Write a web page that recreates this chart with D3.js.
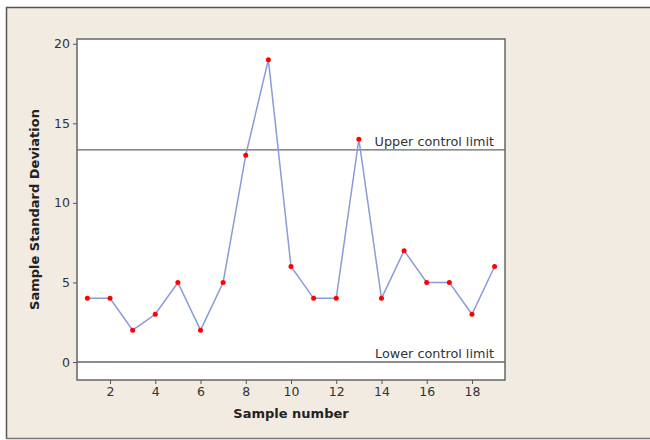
<!DOCTYPE html>
<html><head><meta charset="utf-8">
<script src="https://cdn.jsdelivr.net/npm/d3@7"></script>
<style>
html,body{margin:0;padding:0;background:#fff;}
svg{display:block;}
text{font-family:"DejaVu Sans",Verdana,sans-serif;}
</style></head>
<body>
<svg id="c" width="650" height="440"></svg>
<script>
const samples = [1,2,3,4,5,6,7,8,9,10,11,12,13,14,15,16,17,18,19];
const stdDev = [4,4,2,3,5,2,5,13,19,6,4,4,14,4,7,5,5,3,6];
const xTicks = [2,4,6,8,10,12,14,16,18];
const yTicks = [0,5,10,15,20];
const upperLimit = 13.33;
const lowerLimit = 0;
const limitLabels = ["Upper control limit","Lower control limit"];

const svg = d3.select("#c");
svg.append("rect").attr("x",0).attr("y",0).attr("width",650).attr("height",440).attr("fill","#fff");
svg.append("rect").attr("x",6).attr("y",7).attr("width",650).attr("height",432).attr("fill","#f2ebe1");
svg.append("line").attr("x1",6).attr("x2",650).attr("y1",7.5).attr("y2",7.5).attr("stroke","#555").attr("stroke-width",1.5);
svg.append("line").attr("x1",6.5).attr("x2",6.5).attr("y1",7).attr("y2",439).attr("stroke","#555").attr("stroke-width",1.5);
svg.append("line").attr("x1",6).attr("x2",650).attr("y1",438.5).attr("y2",438.5).attr("stroke","#777").attr("stroke-width",1.5);

const L=77, R=505, T=39, B=380;
const x = d3.scaleLinear().domain([0.54,19.46]).range([L,R]);
const y = d3.scaleLinear().domain([-1.13,20.3]).range([B,T]);

svg.append("rect").attr("x",L).attr("y",T).attr("width",R-L).attr("height",B-T)
  .attr("fill","#fff").attr("stroke","#666").attr("stroke-width",1.5);

const xAxis = svg.append("g").attr("transform",`translate(0,${B})`)
  .call(d3.axisBottom(x).tickValues(xTicks).tickSize(4).tickPadding(3).tickSizeOuter(0));
const yAxis = svg.append("g").attr("transform",`translate(${L},0)`)
  .call(d3.axisLeft(y).tickValues(yTicks).tickSize(4).tickPadding(3).tickSizeOuter(0));
[xAxis,yAxis].forEach(g=>{
  g.select(".domain").remove();
  g.selectAll(".tick line").attr("stroke","#555");
  g.selectAll(".tick text").attr("fill","#333").style("font-size","12.5px");
});

[upperLimit, lowerLimit].forEach((v,i)=>{
  svg.append("line").attr("x1",L).attr("x2",R).attr("y1",y(v)).attr("y2",y(v))
    .attr("stroke","#666").attr("stroke-width",1.3);
  svg.append("text").attr("x",R-11).attr("y",y(v)-4).attr("text-anchor","end")
    .attr("fill","#333").style("font-size","12.8px").text(limitLabels[i]);
});

const line = d3.line().x((d,i)=>x(samples[i])).y(d=>y(d));
svg.append("path").datum(stdDev).attr("d",line).attr("fill","none")
  .attr("stroke","#8a9bd8").attr("stroke-width",1.5);
svg.selectAll("circle.p").data(stdDev).enter().append("circle")
  .attr("cx",(d,i)=>x(samples[i])).attr("cy",d=>y(d)).attr("r",2.5).attr("fill","#f00");

svg.append("text").attr("x",(L+R)/2).attr("y",418).attr("text-anchor","middle")
  .attr("fill","#222").style("font-size","13px").style("font-weight","bold").text("Sample number");
svg.append("text").attr("transform",`translate(39,${(T+B)/2}) rotate(-90)`).attr("text-anchor","middle")
  .attr("fill","#222").style("font-size","13px").style("font-weight","bold").text("Sample Standard Deviation");
</script>
</body></html>
